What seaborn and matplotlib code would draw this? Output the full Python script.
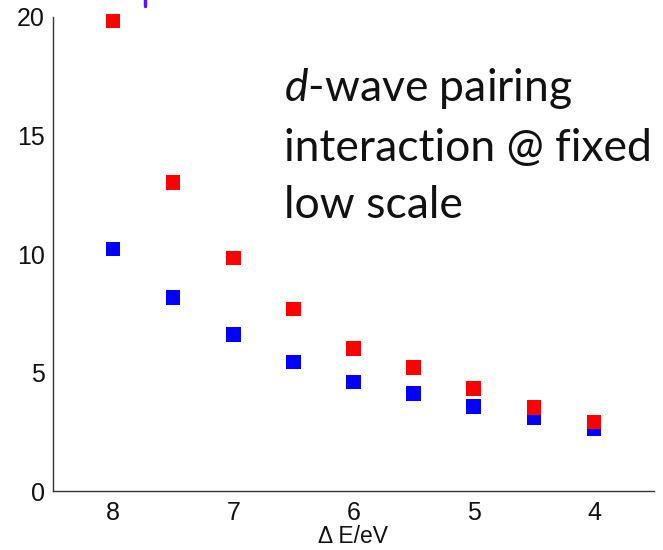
import matplotlib
matplotlib.use("Agg")
import matplotlib.pyplot as plt
import seaborn as sns
import pandas as pd
from matplotlib.lines import Line2D

# Energy window ΔE (eV) and pairing strength for the two series
delta_e = [8.0, 7.5, 7.0, 6.5, 6.0, 5.5, 5.0, 4.5, 4.0]
blue_vals = [10.21, 8.16, 6.60, 5.45, 4.61, 4.13, 3.57, 3.09, 2.64]
red_vals = [19.81, 13.00, 9.83, 7.69, 6.03, 5.23, 4.33, 3.53, 2.92]
x_ticks = [8, 7, 6, 5, 4]
y_ticks = [0, 5, 10, 15, 20]
x_label = "Δ E/eV"
note_lines = ["$\\it{d}$-wave pairing", "interaction @ fixed", "low scale"]

df = pd.concat([
    pd.DataFrame({"dE": delta_e, "V": blue_vals, "series": "blue"}),
    pd.DataFrame({"dE": delta_e, "V": red_vals, "series": "red"}),
], ignore_index=True)

sns.set_style("white")
plt.rcParams["font.family"] = ["Liberation Sans", "DejaVu Sans"]
plt.rcParams["mathtext.fontset"] = "custom"
plt.rcParams["mathtext.it"] = "Lato:italic"
plt.rcParams["mathtext.rm"] = "Lato"

fig = plt.figure(figsize=(6.63, 5.5), dpi=100)
ax = fig.add_axes([53 / 663, 1 - 491.4 / 550, (654 - 53) / 663, (491.4 - 16.6) / 550])

sns.scatterplot(data=df, x="dE", y="V", hue="series",
                palette={"blue": "#0000ff", "red": "#ff0000"},
                marker="s", s=110, linewidth=0, legend=False, ax=ax,
                clip_on=False)

ax.set_xlim(8.5, 3.5)
ax.set_ylim(0, 20)
ax.set_xticks(x_ticks)
ax.set_yticks(y_ticks)
ax.set_xticklabels([str(t) for t in x_ticks])
ax.set_yticklabels([str(t) for t in y_ticks])
ax.tick_params(direction="in", length=4, width=0.9, color="#333333",
               labelsize=18, labelcolor="#111111")
ax.tick_params(axis="x", pad=7)
ax.tick_params(axis="y", pad=6)
ax.set_xlabel(x_label, fontsize=16.5, color="#111111", labelpad=0)
ax.set_ylabel("")
for side in ["top", "right"]:
    ax.spines[side].set_visible(False)
for side in ["left", "bottom"]:
    ax.spines[side].set_color("#333333")
    ax.spines[side].set_linewidth(1.0)

fig.text(284 / 663, 1 - 66 / 550, "\n".join(note_lines), family="Lato",
         fontsize=32, color="#111111", va="top", ha="left", linespacing=1.5)

# small mark above the plot frame
fig.add_artist(Line2D([145 / 663, 145 / 663], [1.0, 1 - 6 / 550],
                      color="#5a10ff", linewidth=2.5))

fig.savefig("out.png", dpi=100)
